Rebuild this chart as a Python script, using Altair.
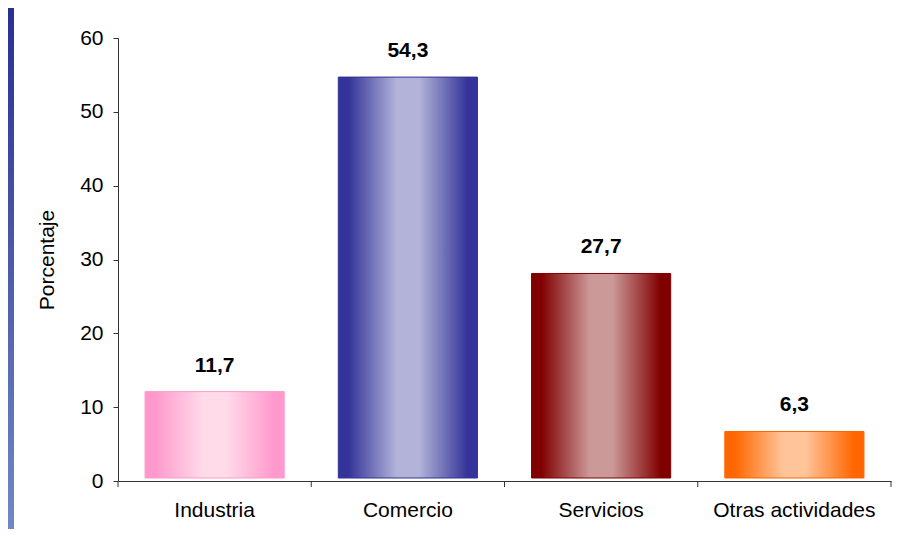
import altair as alt
import pandas as pd

categories = ["Industria", "Comercio", "Servicios", "Otras actividades"]
values = [11.7, 54.3, 27.7, 6.3]
value_labels = ["11,7", "54,3", "27,7", "6,3"]
edge_colors = ["#ff99cc", "#333399", "#800000", "#ff6600"]
center_colors = ["#ffdbea", "#b3b3d9", "#cc9999", "#ffc499"]
y_ticks = [0, 10, 20, 30, 40, 50, 60]

df = pd.DataFrame({"cat": categories, "val": values, "lab": value_labels})
bg = pd.DataFrame({"k": [0]})

W, H = 773, 443
FONT = "Liberation Sans"
PI, PO = 0.28, 0.14
x_scale = alt.Scale(paddingInner=PI, paddingOuter=PO)
STEP = W / (len(categories) - PI + 2 * PO)
GAP = PO * STEP

x_axis = alt.Axis(title=None, labelFont=FONT, labelFontSize=21, labelColor="black",
                  labelAngle=0, ticks=False, domainColor="#333333", labelPadding=18)
x_enc = alt.X("cat:N", sort=categories, scale=x_scale, axis=x_axis)
y_enc = alt.Y(
    "val:Q", scale=alt.Scale(domain=[0, 60], nice=False),
    axis=alt.Axis(values=y_ticks, title="Porcentaje", grid=False, labelFont=FONT,
                  labelFontSize=21, labelColor="black", tickSize=5, tickColor="#333333",
                  domainColor="#333333", labelPadding=10, titleFont=FONT,
                  titleFontSize=21, titleFontWeight="normal", titleColor="black",
                  titlePadding=22),
)


def grad(edge, center):
    return alt.Gradient(
        gradient="linear", x1=0, x2=1, y1=0, y2=0,
        stops=[
            alt.GradientStop(color=edge, offset=0),
            alt.GradientStop(color=edge, offset=0.07),
            alt.GradientStop(color=center, offset=0.42),
            alt.GradientStop(color=center, offset=0.58),
            alt.GradientStop(color=edge, offset=0.93),
            alt.GradientStop(color=edge, offset=1),
        ],
    )


strip = alt.Chart(bg).mark_rect(
    color=alt.Gradient(
        gradient="linear", x1=0, x2=0, y1=0, y2=1,
        stops=[alt.GradientStop(color="#283092", offset=0),
               alt.GradientStop(color="#7088c4", offset=1)],
    )
).encode(x=alt.value(-110), x2=alt.value(-104), y=alt.value(-30), y2=alt.value(491))

layers = [strip]
for c, e, m in zip(categories, edge_colors, center_colors):
    layers.append(
        alt.Chart(df).transform_filter(alt.datum.cat == c)
        .mark_bar(color=grad(e, m), stroke=e, strokeWidth=1, yOffset=-3)
        .encode(x=x_enc, y=y_enc)
    )

# x-axis tick marks placed between the bars (category boundaries)
ticks_start = alt.Chart(df).mark_rule(color="#333333", xOffset=-GAP).encode(
    x=alt.X("cat:N", sort=categories, scale=x_scale, axis=x_axis, bandPosition=0),
    y=alt.value(H), y2=alt.value(H + 6),
)
ticks_end = alt.Chart(df).transform_filter(alt.datum.cat == categories[-1]).mark_rule(
    color="#333333", xOffset=GAP
).encode(
    x=alt.X("cat:N", sort=categories, scale=x_scale, axis=x_axis, bandPosition=1),
    y=alt.value(H), y2=alt.value(H + 6),
)
layers += [ticks_start, ticks_end]

text = alt.Chart(df).mark_text(
    font=FONT, fontSize=21, fontWeight="bold", color="black", baseline="bottom", dy=-19
).encode(x=x_enc, y=y_enc, text="lab:N")
layers.append(text)

chart = alt.layer(*layers).properties(
    width=W, height=H,
    padding={"left": 110, "top": 30, "right": 2, "bottom": 48},
    autosize=alt.AutoSizeParams(type="none"),
    background="white",
).configure_view(stroke=None)

chart.save("out.html", embed_options={"renderer": "svg", "actions": False})
